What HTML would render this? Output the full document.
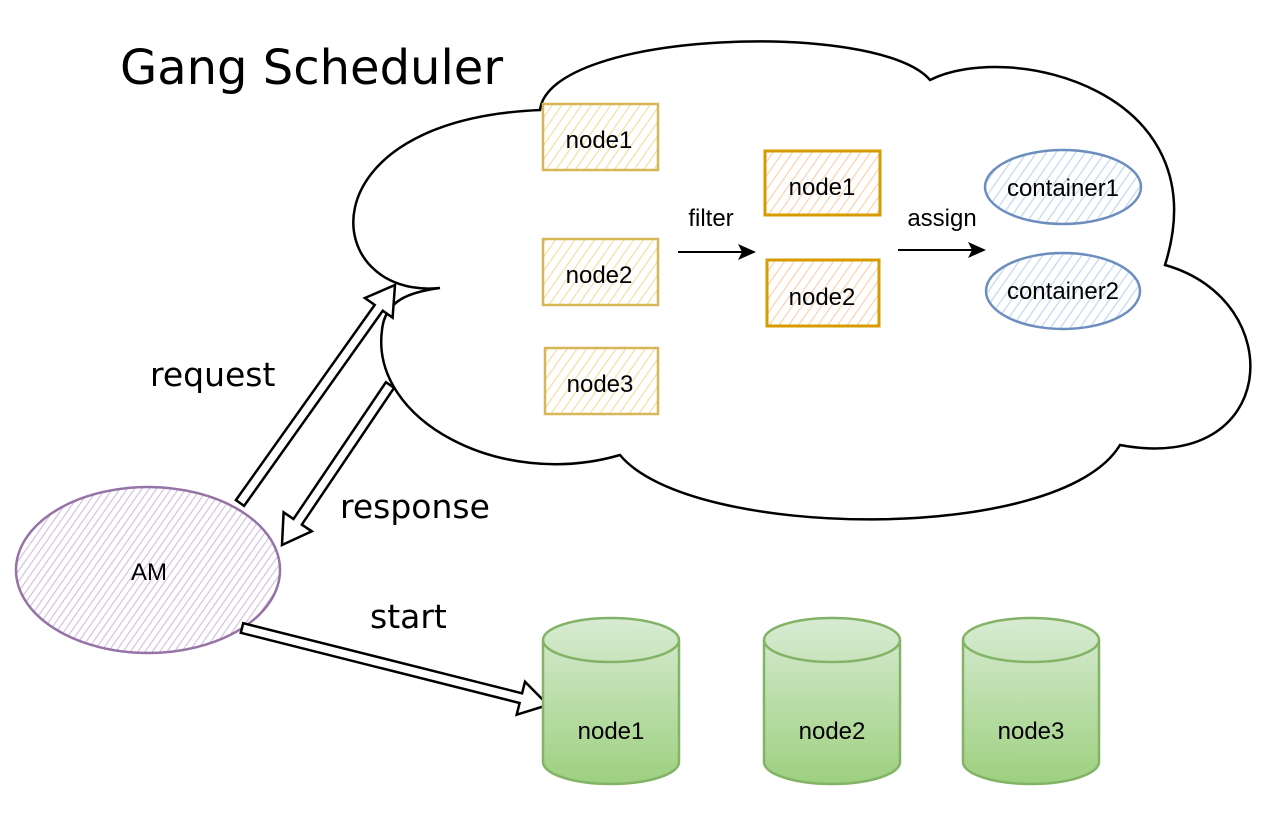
<!DOCTYPE html>
<html><head><meta charset="utf-8"><style>
html,body{margin:0;padding:0;background:#fff}
svg{display:block}
.h{font-family:"DejaVu Sans","Liberation Sans",sans-serif;fill:#000}
.t{font-family:"Liberation Sans",sans-serif;font-size:24px;fill:#000;text-anchor:middle}
</style></head><body>
<svg id="s" width="1280" height="818" viewBox="0 0 1280 818" xmlns="http://www.w3.org/2000/svg">
<defs>
<pattern id="hy" width="8" height="8" patternUnits="userSpaceOnUse" patternTransform="rotate(35)"><rect width="8" height="8" fill="#fff"/><line x1="0" y1="0" x2="0" y2="8" stroke="#f3e0a8" stroke-width="2.5"/></pattern>
<pattern id="ho" width="8" height="8" patternUnits="userSpaceOnUse" patternTransform="rotate(35)"><rect width="8" height="8" fill="#fff"/><line x1="0" y1="0" x2="0" y2="8" stroke="#fbd3b0" stroke-width="2.5"/></pattern>
<pattern id="hb" width="8" height="8" patternUnits="userSpaceOnUse" patternTransform="rotate(35)"><rect width="8" height="8" fill="#fff"/><line x1="0" y1="0" x2="0" y2="8" stroke="#c2d8f5" stroke-width="2.5"/></pattern>
<pattern id="hp" width="6" height="6" patternUnits="userSpaceOnUse" patternTransform="rotate(35)"><rect width="6" height="6" fill="#fff"/><line x1="0" y1="0" x2="0" y2="6" stroke="#d4c2e0" stroke-width="2.4"/></pattern>
<linearGradient id="g" x1="0" y1="0" x2="0" y2="1"><stop offset="0" stop-color="#d8ebd3"/><stop offset="1" stop-color="#9dd07f"/></linearGradient>
</defs>
<text class="h" x="120" y="84" font-size="48">Gang Scheduler</text>
<path d="M540 110 C550 30 880 20 930 80 C1010 40 1220 90 1165 265 C1290 300 1280 475 1120 445 C1060 545 690 540 620 455 C500 490 370 420 382 330 C385 300 410 292 440 288 C320 300 300 120 540 110 Z" fill="#fff" stroke="#000" stroke-width="2.5"/>
<g stroke="#d6b656" stroke-width="2.5" fill="url(#hy)">
<rect x="543" y="104" width="115" height="66"/>
<rect x="543" y="239" width="115" height="66"/>
<rect x="545" y="348" width="113" height="66"/>
</g>
<g stroke="#d79b00" stroke-width="3" fill="url(#ho)">
<rect x="765" y="151" width="115" height="64"/>
<rect x="767" y="260" width="112" height="66"/>
</g>
<g stroke="#6c8ebf" stroke-width="2.5" fill="url(#hb)">
<ellipse cx="1063" cy="187" rx="78" ry="37"/>
<ellipse cx="1063" cy="291" rx="77" ry="38"/>
</g>
<text class="t" x="599" y="148">node1</text>
<text class="t" x="599" y="283">node2</text>
<text class="t" x="600" y="392">node3</text>
<text class="t" x="822" y="195">node1</text>
<text class="t" x="822" y="305">node2</text>
<text class="t" x="1063" y="196">container1</text>
<text class="t" x="1063" y="299">container2</text>
<text class="t" x="711" y="226">filter</text>
<text class="t" x="942" y="226">assign</text>
<g stroke="#000" stroke-width="2"><line x1="678" y1="252" x2="742" y2="252"/><line x1="898" y1="250" x2="972" y2="250"/></g>
<polygon points="756,252 738,244 742,252 738,260" fill="#000"/>
<polygon points="986,250 968,242 972,250 968,258" fill="#000"/>
<ellipse cx="148" cy="570" rx="132" ry="83" fill="url(#hp)" stroke="#9673a6" stroke-width="2.5"/>
<text class="t" x="149" y="580" font-size="22">AM</text>
<text class="h" x="150" y="386" font-size="33">request</text>
<text class="h" x="340" y="518" font-size="33">response</text>
<text class="h" x="370" y="628" font-size="33">start</text>
<g id="arr" fill="#fff" stroke="#000" stroke-width="2.5"></g>
<g stroke="#82b366" stroke-width="2.5" fill="url(#g)">
<path d="M543 640 A68 22 0 0 1 679 640 V762 A68 22 0 0 1 543 762 Z"/><path d="M543 640 A68 22 0 0 0 679 640" fill="none"/>
<path d="M764 640 A68 22 0 0 1 900 640 V762 A68 22 0 0 1 764 762 Z"/><path d="M764 640 A68 22 0 0 0 900 640" fill="none"/>
<path d="M963 640 A68 22 0 0 1 1099 640 V762 A68 22 0 0 1 963 762 Z"/><path d="M963 640 A68 22 0 0 0 1099 640" fill="none"/>
</g>
<text class="t" x="611" y="739">node1</text>
<text class="t" x="832" y="739">node2</text>
<text class="t" x="1031" y="739">node3</text>
</svg>
<script>
function arrow(x1,y1,x2,y2){var dx=x2-x1,dy=y2-y1,L=Math.hypot(dx,dy),ux=dx/L,uy=dy/L,nx=-uy,ny=ux,w=5,hw=17,hl=28;
var bx=x2-ux*hl,by=y2-uy*hl;
var p=[[x1+nx*w,y1+ny*w],[bx+nx*w,by+ny*w],[bx+nx*hw,by+ny*hw],[x2,y2],[bx-nx*hw,by-ny*hw],[bx-nx*w,by-ny*w],[x1-nx*w,y1-ny*w]];
var e=document.createElementNS("http://www.w3.org/2000/svg","polygon");e.setAttribute("points",p.map(function(q){return q[0].toFixed(1)+","+q[1].toFixed(1)}).join(" "));document.getElementById("arr").appendChild(e);}
arrow(240,503,395,285);arrow(390,385,282,545);arrow(242,628,548,705);
</script>
</body></html>
